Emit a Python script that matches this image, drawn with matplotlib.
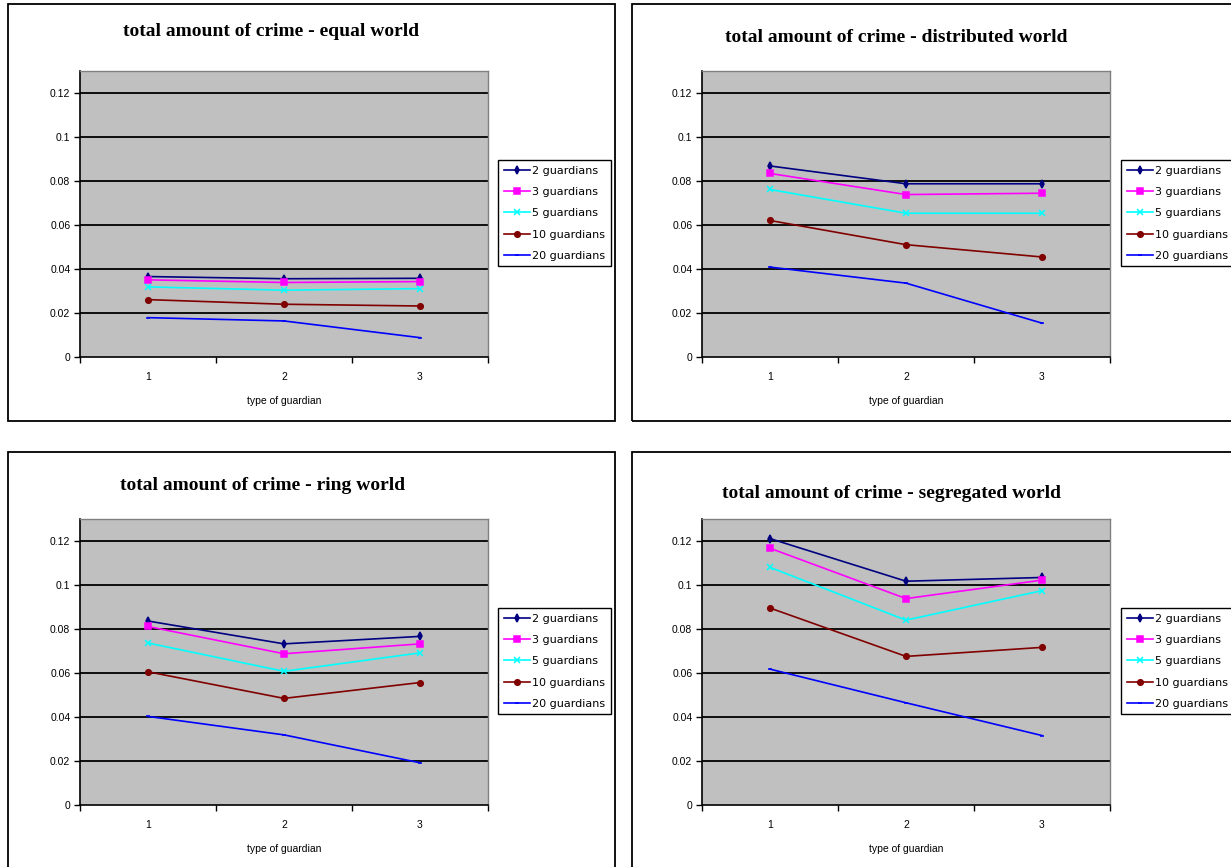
import matplotlib
matplotlib.use("Agg")
import matplotlib.pyplot as plt
from matplotlib.patches import Rectangle

# ---- data ----
categories = [1, 2, 3]
series_labels = ["2 guardians", "3 guardians", "5 guardians", "10 guardians", "20 guardians"]
titles = ["total amount of crime - equal world",
          "total amount of crime - distributed world",
          "total amount of crime - ring world",
          "total amount of crime - segregated world"]
x_label = "type of guardian"
y_ticks = [0, 0.02, 0.04, 0.06, 0.08, 0.1, 0.12]
y_tick_labels = ["0", "0.02", "0.04", "0.06", "0.08", "0.1", "0.12"]

equal_world = [
    [0.0366, 0.0356, 0.0358],
    [0.0351, 0.0339, 0.0343],
    [0.0319, 0.0304, 0.0311],
    [0.0261, 0.0240, 0.0232],
    [0.0179, 0.0164, 0.0088],
]
distributed_world = [
    [0.0869, 0.0788, 0.0788],
    [0.0835, 0.0739, 0.0745],
    [0.0762, 0.0654, 0.0654],
    [0.0621, 0.0511, 0.0455],
    [0.0409, 0.0336, 0.0154],
]
ring_world = [
    [0.0837, 0.0733, 0.0767],
    [0.0812, 0.0688, 0.0733],
    [0.0737, 0.0608, 0.0692],
    [0.0606, 0.0485, 0.0557],
    [0.0403, 0.0319, 0.0192],
]
segregated_world = [
    [0.1212, 0.1018, 0.1035],
    [0.1168, 0.0939, 0.1023],
    [0.1081, 0.0841, 0.0975],
    [0.0896, 0.0676, 0.0717],
    [0.0618, 0.0465, 0.0316],
]
worlds = [equal_world, distributed_world, ring_world, segregated_world]

# ---- styles ----
colors = ["#000080", "#FF00FF", "#00FFFF", "#800000", "#0000FF"]
markers = ["d", "s", "x", "o", "_"]
msizes = [4, 4, 4.5, 4, 3.5]

W, H = 1231, 867
fig = plt.figure(figsize=(W / 100, H / 100), dpi=100)
fig.patch.set_facecolor("white")

def frect(x0, y0, x1, y1):
    return [x0 / W, 1 - y1 / H, (x1 - x0) / W, (y1 - y0) / H]

panels = [
    dict(plot=(80, 71, 488, 357), border=(8, 4, 615, 421), legend=(498, 160), title=(271, 32)),
    dict(plot=(702, 71, 1110, 357), border=(632, 4, 1240, 421), legend=(1121, 160), title=(896, 37)),
    dict(plot=(80, 519, 488, 805), border=(8, 452, 615, 875), legend=(498, 608), title=(263, 485)),
    dict(plot=(702, 519, 1110, 805), border=(632, 452, 1240, 875), legend=(1121, 608), title=(892, 493)),
]

sans = ["Liberation Sans", "DejaVu Sans"]

for p, data, title in zip(panels, worlds, titles):
    bx0, by0, bx1, by1 = p["border"]
    fig.patches.append(Rectangle((bx0 / W, 1 - by1 / H), (bx1 - bx0) / W, (by1 - by0) / H,
                                 transform=fig.transFigure, fill=False, edgecolor="black",
                                 linewidth=1.3, zorder=0))
    ax = fig.add_axes(frect(*p["plot"]))
    ax.set_facecolor("#C0C0C0")
    ax.set_xlim(0.5, 3.5)
    ax.set_ylim(0, 0.1301)
    for s in ["top", "right"]:
        ax.spines[s].set_color("#808080")
        ax.spines[s].set_linewidth(1.0)
    for s in ["left", "bottom"]:
        ax.spines[s].set_color("black")
        ax.spines[s].set_linewidth(1.2)
    ax.set_yticks(y_ticks)
    ax.set_yticklabels(y_tick_labels, fontsize=7.5, family=sans)
    ax.set_xticks(categories)
    ax.set_xticklabels([str(c) for c in categories], fontsize=7.5, family=sans)
    ax.set_xticks([0.5, 1.5, 2.5, 3.5], minor=True)
    ax.tick_params(axis="x", which="major", length=0, pad=11)
    ax.tick_params(axis="x", which="minor", length=4, width=1, direction="out")
    ax.tick_params(axis="y", which="major", length=4, width=1, direction="out", pad=3)
    for yv in y_ticks[1:]:
        ax.axhline(yv, color="black", linewidth=1.3, zorder=1)
    for vals, lab, c, m, ms in zip(data, series_labels, colors, markers, msizes):
        ax.plot(categories, vals, color=c, marker=m, markersize=ms, linewidth=1.2,
                markeredgewidth=1.1, label=lab, zorder=3, clip_on=False)
    ax.set_xlabel(x_label, fontsize=7.5, family=sans, labelpad=10)
    lx, ly = p["legend"]
    leg = ax.legend(loc="upper left", bbox_to_anchor=(lx / W, 1 - ly / H),
                    bbox_transform=fig.transFigure, borderaxespad=0, fancybox=False,
                    framealpha=1, edgecolor="black", handlelength=2.4,
                    handletextpad=0.2, labelspacing=1.02, borderpad=0.5,
                    prop={"family": ["DejaVu Sans"], "size": 8})
    leg.get_frame().set_linewidth(1.0)
    tx, ty = p["title"]
    fig.text(tx / W, 1 - ty / H, title, ha="center", va="center", fontsize=14,
             fontweight="bold", family=["Liberation Serif", "DejaVu Serif"])

fig.savefig("out.png", dpi=100)
